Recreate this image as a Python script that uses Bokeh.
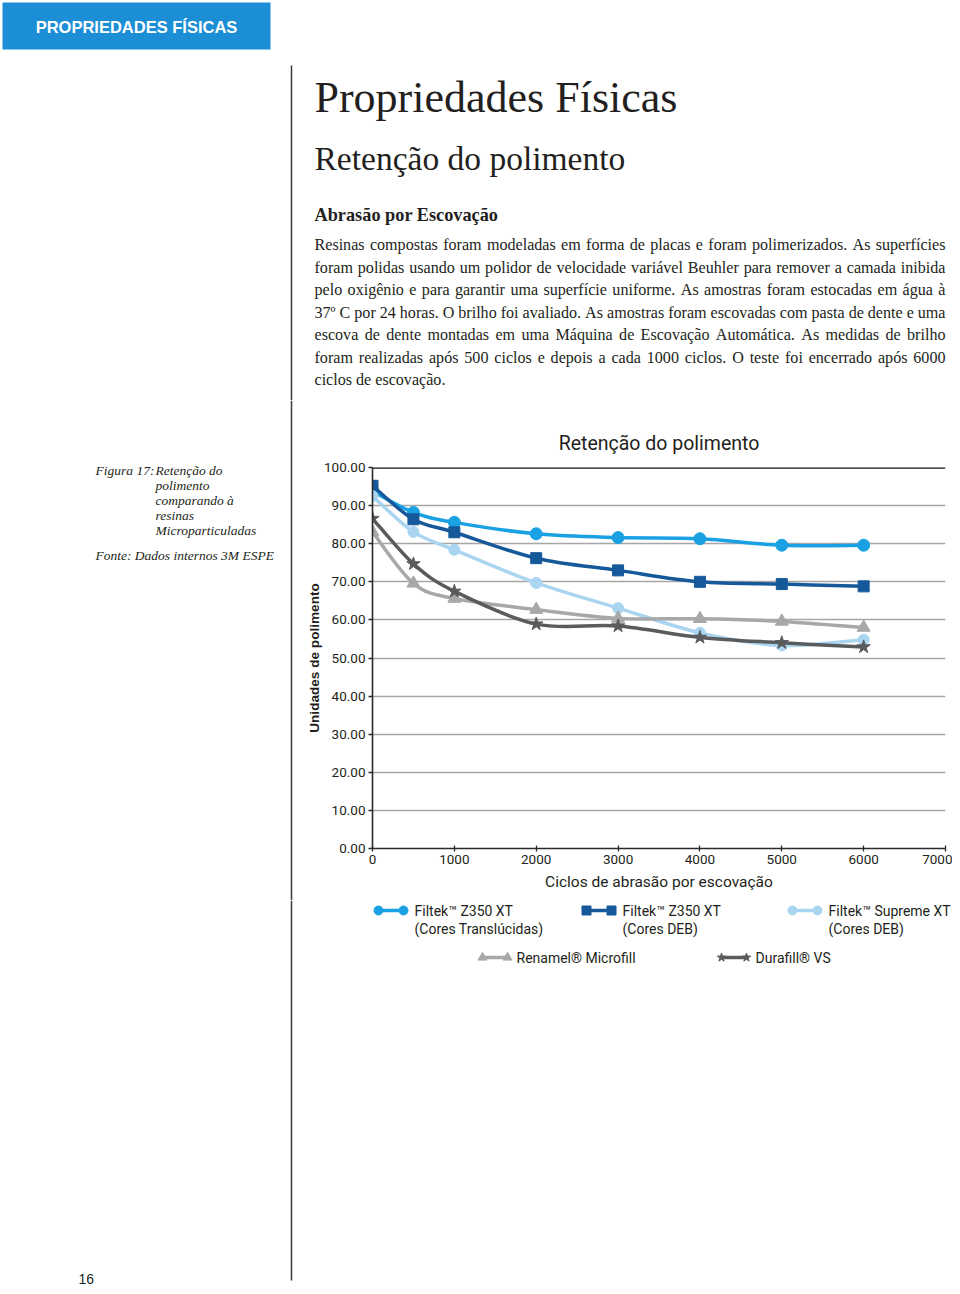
import unicodedata
from bokeh.plotting import figure
from bokeh.layouts import column, row
from bokeh.models import Range1d, Span, NumeralTickFormatter, FixedTicker
from bokeh.core.properties import value
from bokeh.embed import file_html
from bokeh.resources import INLINE

# ---------------- data ----------------
cycles = [0, 500, 1000, 2000, 3000, 4000, 5000, 6000]
z350_transl = [93.8, 88.2, 85.6, 82.6, 81.6, 81.3, 79.6, 79.6]
z350_deb = [95.2, 86.4, 83.0, 76.2, 73.0, 70.0, 69.4, 68.8]
supreme_deb = [92.5, 83.1, 78.4, 69.7, 63.1, 56.6, 53.3, 54.8]
renamel = [83.1, 69.6, 65.6, 62.7, 60.4, 60.3, 59.6, 58.0]
durafill = [86.6, 74.7, 67.5, 58.9, 58.4, 55.4, 54.0, 52.9]

series_labels = [
    ["Filtek\u2122 Z350 XT", "(Cores Transl\u00facidas)"],
    ["Filtek\u2122 Z350 XT", "(Cores DEB)"],
    ["Filtek\u2122 Supreme XT", "(Cores DEB)"],
    ["Renamel\u00ae Microfill"],
    ["Durafill\u00ae VS"],
]
x_ticks = [0, 1000, 2000, 3000, 4000, 5000, 6000, 7000]
y_ticks = [0, 10, 20, 30, 40, 50, 60, 70, 80, 90, 100]

chart_title = "Reten\u00e7\u00e3o do polimento"
x_label = "Ciclos de abras\u00e3o por escova\u00e7\u00e3o"
y_label = "Unidades de polimento"

header = "PROPRIEDADES F\u00cdSICAS"
page_title = "Propriedades F\u00edsicas"
subtitle = "Reten\u00e7\u00e3o do polimento"
section = "Abras\u00e3o por Escova\u00e7\u00e3o"
paragraph = [
    "Resinas compostas foram modeladas em forma de placas e foram polimerizados. As superf\u00edcies",
    "foram polidas usando um polidor de velocidade vari\u00e1vel Beuhler para remover a camada inibida",
    "pelo oxig\u00eanio e para garantir uma superf\u00edcie uniforme. As amostras foram estocadas em \u00e1gua \u00e0",
    "37\u00ba C por 24 horas. O brilho foi avaliado. As amostras foram escovadas com pasta de dente e uma",
    "escova de dente montadas em uma M\u00e1quina de Escova\u00e7\u00e3o Autom\u00e1tica. As medidas de brilho",
    "foram realizadas ap\u00f3s 500 ciclos e depois a cada 1000 ciclos. O teste foi encerrado ap\u00f3s 6000",
    "ciclos de escova\u00e7\u00e3o.",
]
fig_label = "Figura 17:"
caption = ["Reten\u00e7\u00e3o do", "polimento", "comparando \u00e0", "resinas", "Microparticuladas"]
source = "Fonte: Dados internos 3M ESPE"
page_no = "16"

# ---------------- styles ----------------
COND = "Roboto, 'DejaVu Sans Condensed', sans-serif"
SANS = "'Liberation Sans', Arial, sans-serif"
SERIF = "'Liberation Serif', 'Times New Roman', serif"
TXT = "#231f20"
RULE = "#3a3a3a"
BLUE_HDR = "#1b8ed6"

colors = ["#1aa1e3", "#16599a", "#a9d5f1", "#a7a8aa", "#5a5b5d"]
markers = ["circle", "square", "circle", "triangle", "star"]
msizes = [12, 11, 11, 13, 14]

PAGE_W = 952
TOP_H = 400          # top text block height
MID_H = 500          # chart row height
BOT_H = 1286 - TOP_H - MID_H
LEFT_W = 300         # caption column width
RULE_X = 291
TEXT_L, TEXT_R = 314, 945   # justified text column

# legend key layout (page pixels)
KEY_X = [375, 583, 789, 479, 718]
KEY_Y = [910, 910, 910, 957, 957]
KEY_LEN = 31

# Times-compatible advance widths (1/1000 em), used to justify the paragraph
_TW = dict(zip("abcdefghijklmnopqrstuvwxyz",
               [444, 500, 444, 500, 444, 333, 500, 500, 278, 278, 500, 278, 778,
                500, 500, 500, 500, 333, 389, 278, 500, 500, 722, 500, 500, 444]))
_TW.update(zip("ABCDEFGHIJKLMNOPQRSTUVWXYZ",
               [722, 667, 667, 722, 611, 556, 722, 722, 333, 389, 722, 611, 889,
                722, 722, 556, 722, 667, 556, 611, 722, 722, 944, 722, 722, 611]))
_TW.update({d: 500 for d in "0123456789"})
_TW.update({".": 250, ",": 250, ":": 278, "\u00ba": 310, " ": 250})


def word_width(w, size):
    tot = 0
    for ch in w:
        base = unicodedata.normalize("NFD", ch)[0]
        tot += _TW.get(ch, _TW.get(base, 500))
    return tot * size / 1000.0


def text_fig(x0, y0, w, h):
    f = figure(width=w, height=h, output_backend="svg", toolbar_location=None,
               x_range=Range1d(x0, x0 + w), y_range=Range1d(y0 + h, y0),
               min_border=0, x_axis_location=None, y_axis_location=None, frame_align=False)
    f.grid.visible = False
    f.outline_line_color = None
    f.background_fill_color = "white"
    f.border_fill_color = "white"
    return f


def put(f, x, base, text, size, font, color=TXT, style="normal", align="left"):
    # base = alphabetic baseline in page pixels; drawn with a middle anchor
    f.text(x=[x], y=[base - 0.345 * size], text=[text], text_font=value(font),
           text_font_size=value(f"{size}px"), text_font_style=style, text_color=color,
           text_align=align, text_baseline="middle")


def put_justified(f, base, text, size, font):
    words = text.split(" ")
    widths = [word_width(w, size) for w in words]
    gap = (TEXT_R - TEXT_L - sum(widths)) / (len(words) - 1)
    xs, x = [], TEXT_L
    for wd in widths:
        xs.append(x)
        x += wd + gap
    f.text(x=xs, y=[base - 0.345 * size] * len(words), text=words, text_font=value(font),
           text_font_size=value(f"{size}px"), text_color=TXT, text_align="left",
           text_baseline="middle")


# ---------------- top block ----------------
top = text_fig(0, 0, PAGE_W, TOP_H)
top.quad(left=[2], right=[270], top=[2], bottom=[49], fill_color=BLUE_HDR, line_color=None)
top.text(x=[136], y=[26], text=[header], text_font=value(SANS), text_font_size=value("16.5px"),
         text_font_style="bold", text_color="white", text_align="center", text_baseline="middle")
top.segment(x0=[RULE_X], y0=[65], x1=[RULE_X], y1=[TOP_H], line_color=RULE, line_width=1.5)
put(top, TEXT_L, 112, page_title, 44, SERIF)
put(top, TEXT_L, 170, subtitle, 33.5, SERIF)
put(top, TEXT_L, 221, section, 18.3, SERIF, style="bold")
for i, line in enumerate(paragraph):
    base = 250 + 22.5 * i
    if i < len(paragraph) - 1:
        put_justified(top, base, line, 16.1, SERIF)
    else:
        put(top, TEXT_L, base, line, 16.1, SERIF)

# ---------------- left caption column ----------------
left = text_fig(0, TOP_H, LEFT_W, MID_H)
left.segment(x0=[RULE_X], y0=[TOP_H], x1=[RULE_X], y1=[TOP_H + MID_H], line_color=RULE, line_width=1.5)
put(left, 95, 475, fig_label, 13.5, SERIF, style="italic")
for i, line in enumerate(caption):
    put(left, 155, 475 + 15 * i, line, 13.5, SERIF, style="italic")
put(left, 95, 560, source, 13.5, SERIF, style="italic")

# ---------------- chart ----------------
CH_W = PAGE_W - LEFT_W
p = figure(width=CH_W, height=MID_H, output_backend="svg", toolbar_location=None,
           x_range=Range1d(0, 7000), y_range=Range1d(0, 100), frame_align=False,
           min_border_left=372 - LEFT_W, min_border_right=CH_W - (945 - LEFT_W),
           min_border_top=467 - TOP_H, min_border_bottom=TOP_H + MID_H - 848)
p.outline_line_color = None
p.background_fill_color = "white"
p.border_fill_color = "white"
p.xgrid.grid_line_color = None
p.ygrid.grid_line_color = "#a6a6a6"
p.ygrid.grid_line_width = 1.3

p.title.text = chart_title
p.title.align = "center"
p.title.text_font = COND
p.title.text_font_size = "19.5px"
p.title.text_font_style = "normal"
p.title.text_color = TXT
p.title.standoff = 25

for ax in (p.xaxis[0], p.yaxis[0]):
    ax.axis_line_color = "#2b2b2b"
    ax.axis_line_width = 1.6
    ax.major_tick_line_color = "#2b2b2b"
    ax.major_tick_line_width = 1.3
    ax.minor_tick_line_color = None
    ax.major_label_text_font = COND
    ax.major_label_text_color = TXT
    ax.axis_label_text_color = TXT
    ax.axis_label_text_font_style = "normal"

p.xaxis.major_tick_in = 3
p.xaxis.major_tick_out = 3
p.yaxis.major_tick_in = 0
p.yaxis.major_tick_out = 4
p.xaxis.ticker = FixedTicker(ticks=x_ticks)
p.yaxis.ticker = FixedTicker(ticks=y_ticks)
p.yaxis.formatter = NumeralTickFormatter(format="0.00")
p.xaxis.major_label_text_font_size = "13.5px"
p.yaxis.major_label_text_font_size = "13.5px"
p.xaxis.major_label_standoff = 3
p.yaxis.major_label_standoff = 3
p.xaxis.axis_label = x_label
p.xaxis.axis_label_text_font = COND
p.xaxis.axis_label_text_font_size = "15.5px"
p.xaxis.axis_label_standoff = 6
p.yaxis.axis_label = y_label
p.yaxis.axis_label_text_font = SANS
p.yaxis.axis_label_text_font_style = "bold"
p.yaxis.axis_label_text_font_size = "13.6px"
p.yaxis.axis_label_standoff = -1

p.add_layout(Span(location=100, dimension="width", line_color="#111111", line_width=2.6))


def smooth(xs, ys):
    n = len(xs)
    d = dict(x0=[], y0=[], x1=[], y1=[], cx0=[], cy0=[], cx1=[], cy1=[])
    for i in range(n - 1):
        a = max(i - 1, 0)
        b = min(i + 2, n - 1)
        d["x0"].append(xs[i]); d["y0"].append(ys[i])
        d["x1"].append(xs[i + 1]); d["y1"].append(ys[i + 1])
        d["cx0"].append(xs[i] + (xs[i + 1] - xs[a]) / 6)
        d["cy0"].append(ys[i] + (ys[i + 1] - ys[a]) / 6)
        d["cx1"].append(xs[i + 1] - (xs[b] - xs[i]) / 6)
        d["cy1"].append(ys[i + 1] - (ys[b] - ys[i]) / 6)
    return d


all_series = [z350_transl, z350_deb, supreme_deb, renamel, durafill]
for ys, c, m, s in zip(all_series, colors, markers, msizes):
    b = smooth(cycles, ys)
    p.bezier(x0=b["x0"], y0=b["y0"], x1=b["x1"], y1=b["y1"],
             cx0=b["cx0"], cy0=b["cy0"], cx1=b["cx1"], cy1=b["cy1"],
             line_color=c, line_width=3.5)
    p.scatter(cycles, ys, marker=m, size=s, fill_color=c, line_color=c)

# ---------------- bottom block (legend key + page number) ----------------
bottom = text_fig(0, TOP_H + MID_H, PAGE_W, BOT_H)
bottom.segment(x0=[RULE_X], y0=[TOP_H + MID_H], x1=[RULE_X], y1=[1280], line_color=RULE, line_width=1.5)
for kx, ky, c, m, lines in zip(KEY_X, KEY_Y, colors, markers, series_labels):
    bottom.segment(x0=[kx + 3], y0=[ky], x1=[kx + KEY_LEN - 3], y1=[ky], line_color=c, line_width=3.5)
    bottom.scatter([kx + 3, kx + KEY_LEN - 3], [ky, ky], marker=m, size=9, fill_color=c, line_color=c)
    tx = kx + KEY_LEN + (8 if len(lines) > 1 else 6)
    for j, t in enumerate(lines):
        put(bottom, tx, ky + 5 + 18 * j, t, 14, COND)
put(bottom, 78, 1283, page_no, 14, SANS)

layout = column(top, row(left, p, spacing=0), bottom, spacing=0)
open("out.html", "w").write(file_html(layout, INLINE))
